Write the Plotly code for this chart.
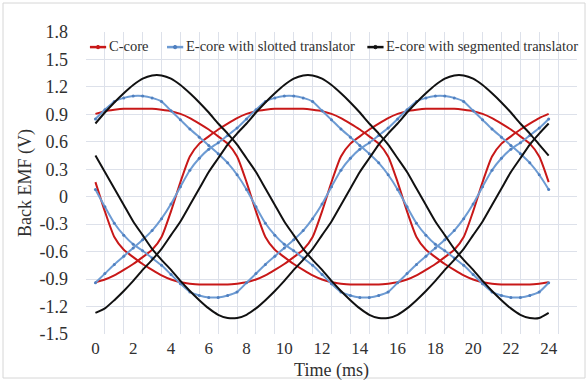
import plotly.graph_objects as go

# ---------------- data ----------------
time_ms = [0, 0.5, 1, 1.5, 2, 2.5, 3, 3.5, 4, 4.5, 5, 5.5, 6, 6.5, 7, 7.5, 8, 8.5,
           9, 9.5, 10, 10.5, 11, 11.5, 12, 12.5, 13, 13.5, 14, 14.5, 15, 15.5,
           16, 16.5, 17, 17.5, 18, 18.5, 19, 19.5, 20, 20.5, 21, 21.5, 22, 22.5,
           23, 23.5, 24]

c_core_a = [0.905, 0.935, 0.95, 0.96, 0.96, 0.96, 0.96, 0.95, 0.935, 0.905, 0.86, 0.80,
            0.735, 0.66, 0.58, 0.44, 0.16, -0.16, -0.44, -0.58, -0.66, -0.735, -0.80,
            -0.86, -0.905, -0.935, -0.95, -0.96, -0.96, -0.96, -0.96, -0.95, -0.935,
            -0.905, -0.86, -0.80, -0.735, -0.66, -0.58, -0.44, -0.16, 0.16, 0.44, 0.58,
            0.66, 0.735, 0.80, 0.86, 0.905]
c_core_b = [0.16, -0.16, -0.44, -0.58, -0.66, -0.735, -0.80, -0.86, -0.905, -0.935, -0.95,
            -0.96, -0.96, -0.96, -0.96, -0.95, -0.935, -0.905, -0.86, -0.80, -0.735, -0.66,
            -0.58, -0.44, -0.16, 0.16, 0.44, 0.58, 0.66, 0.735, 0.80, 0.86, 0.905, 0.935,
            0.95, 0.96, 0.96, 0.96, 0.96, 0.95, 0.935, 0.905, 0.86, 0.80, 0.735, 0.66,
            0.58, 0.44, 0.16]
c_core_c = [-0.935, -0.905, -0.86, -0.80, -0.735, -0.66, -0.58, -0.44, -0.16, 0.16, 0.44,
            0.58, 0.66, 0.735, 0.80, 0.86, 0.905, 0.935, 0.95, 0.96, 0.96, 0.96, 0.96,
            0.95, 0.935, 0.905, 0.86, 0.80, 0.735, 0.66, 0.58, 0.44, 0.16, -0.16, -0.44,
            -0.58, -0.66, -0.735, -0.80, -0.86, -0.905, -0.935, -0.95, -0.96, -0.96,
            -0.96, -0.96, -0.95, -0.935]

slotted_a = [0.85, 0.95, 1.04, 1.08, 1.10, 1.10, 1.08, 1.04, 0.94, 0.84, 0.74, 0.65, 0.56,
             0.47, 0.37, 0.24, 0.08, -0.11, -0.29, -0.42, -0.52, -0.59, -0.67, -0.75,
             -0.85, -0.95, -1.04, -1.08, -1.10, -1.10, -1.08, -1.04, -0.94, -0.84, -0.74,
             -0.65, -0.56, -0.47, -0.37, -0.24, -0.08, 0.11, 0.29, 0.42, 0.52, 0.59, 0.67,
             0.75, 0.85]
slotted_b = [0.08, -0.11, -0.29, -0.42, -0.52, -0.59, -0.67, -0.75, -0.85, -0.95, -1.04,
             -1.08, -1.10, -1.10, -1.08, -1.04, -0.94, -0.84, -0.74, -0.65, -0.56, -0.47,
             -0.37, -0.24, -0.08, 0.11, 0.29, 0.42, 0.52, 0.59, 0.67, 0.75, 0.85, 0.95,
             1.04, 1.08, 1.10, 1.10, 1.08, 1.04, 0.94, 0.84, 0.74, 0.65, 0.56, 0.47, 0.37,
             0.24, 0.08]
slotted_c = [-0.94, -0.84, -0.74, -0.65, -0.56, -0.47, -0.37, -0.24, -0.08, 0.11, 0.29,
             0.42, 0.52, 0.59, 0.67, 0.75, 0.85, 0.95, 1.04, 1.08, 1.10, 1.10, 1.08, 1.04,
             0.94, 0.84, 0.74, 0.65, 0.56, 0.47, 0.37, 0.24, 0.08, -0.11, -0.29, -0.42,
             -0.52, -0.59, -0.67, -0.75, -0.85, -0.95, -1.04, -1.08, -1.10, -1.10, -1.08,
             -1.04, -0.94]

segmented_a = [0.80, 0.92, 1.03, 1.13, 1.22, 1.29, 1.325, 1.325, 1.29, 1.22, 1.13, 1.03,
               0.92, 0.80, 0.69, 0.57, 0.42, 0.27, 0.09, -0.09, -0.27, -0.42, -0.57, -0.69,
               -0.80, -0.92, -1.03, -1.13, -1.22, -1.29, -1.325, -1.325, -1.29, -1.22,
               -1.13, -1.03, -0.92, -0.80, -0.69, -0.57, -0.42, -0.27, -0.09, 0.09, 0.27,
               0.42, 0.57, 0.69, 0.80]
segmented_b = [0.45, 0.27, 0.09, -0.09, -0.27, -0.42, -0.57, -0.69, -0.80, -0.92, -1.03,
               -1.13, -1.22, -1.29, -1.325, -1.325, -1.29, -1.22, -1.13, -1.03, -0.92,
               -0.80, -0.69, -0.57, -0.42, -0.27, -0.09, 0.09, 0.27, 0.42, 0.57, 0.69,
               0.80, 0.92, 1.03, 1.13, 1.22, 1.29, 1.325, 1.325, 1.29, 1.22, 1.13, 1.03,
               0.92, 0.80, 0.69, 0.57, 0.45]
segmented_c = [-1.27, -1.22, -1.13, -1.03, -0.92, -0.80, -0.69, -0.57, -0.42, -0.27, -0.09,
               0.09, 0.27, 0.42, 0.57, 0.69, 0.80, 0.92, 1.03, 1.13, 1.22, 1.29, 1.325,
               1.325, 1.29, 1.22, 1.13, 1.03, 0.92, 0.80, 0.69, 0.57, 0.42, 0.27, 0.09,
               -0.09, -0.27, -0.42, -0.57, -0.69, -0.80, -0.92, -1.03, -1.13, -1.22, -1.29,
               -1.325, -1.325, -1.27]

series_names = ["C-core", "E-core with slotted translator", "E-core with segmented translator"]

x_tick_vals = [0, 2, 4, 6, 8, 10, 12, 14, 16, 18, 20, 22, 24]
x_tick_text = ["0", "2", "4", "6", "8", "10", "12", "14", "16", "18", "20", "22", "24"]
x_grid_vals = [-0.5, 0.5, 1.5, 2.5, 3.5, 4.5, 5.5, 6.5, 7.5, 8.5, 9.5, 10.5, 11.5, 12.5,
               13.5, 14.5, 15.5, 16.5, 17.5, 18.5, 19.5, 20.5, 21.5, 22.5, 23.5, 24.5, 25.5]
y_tick_vals = [1.8, 1.5, 1.2, 0.9, 0.6, 0.3, 0, -0.3, -0.6, -0.9, -1.2, -1.5]
y_tick_text = ["1.8", "1.5", "1.2", "0.9", "0.6", "0.3", "0", "-0.3", "-0.6", "-0.9",
               "-1.2", "-1.5"]

# ---------------- styles ----------------
RED = "#c81818"
BLUE = "#6d9bd3"
BLUE_DOT = "#4f7fbf"
BLACK = "#111111"
TEXT = "#303030"
FONT = "Liberation Serif"

fig = go.Figure()

groups = [
    (series_names[0], [c_core_a, c_core_b, c_core_c], RED, None),
    (series_names[1], [slotted_a, slotted_b, slotted_c], BLUE, BLUE_DOT),
    (series_names[2], [segmented_a, segmented_b, segmented_c], BLACK, None),
]
for name, phases, color, dot in groups:
    for vals in phases:
        fig.add_trace(go.Scatter(
            x=time_ms, y=vals, mode="lines+markers" if dot else "lines", name=name,
            legendgroup=name, showlegend=False,
            line=dict(color=color, width=2, shape="spline", smoothing=0.6),
            marker=dict(color=dot or color, size=3)))

# custom legend (inside the top band of the plot)
legend_y = 0.950
legend_items = [
    (0.008, 0.041, 0.042, series_names[0], RED, RED),
    (0.165, 0.198, 0.199, series_names[1], BLUE, BLUE_DOT),
    (0.573, 0.606, 0.607, series_names[2], BLACK, BLACK),
]
shapes = []
annotations = []
for x0, x1, xt, label, color, dotc in legend_items:
    shapes.append(dict(type="line", xref="paper", yref="paper", x0=x0, x1=x1,
                       y0=legend_y, y1=legend_y, line=dict(color=color, width=2.5)))
    xm = (x0 + x1) / 2
    shapes.append(dict(type="circle", xref="paper", yref="paper",
                       x0=xm - 0.0035, x1=xm + 0.0035,
                       y0=legend_y - 0.0055, y1=legend_y + 0.0055,
                       line=dict(color=dotc, width=1), fillcolor=dotc))
    annotations.append(dict(xref="paper", yref="paper", x=xt, y=legend_y + 0.003,
                            text=label, showarrow=False, xanchor="left",
                            yanchor="middle",
                            font=dict(family=FONT, size=14.5, color=TEXT)))

# light frame around the whole picture
shapes.append(dict(type="rect", xref="paper", yref="paper",
                   x0=-0.169, x1=1.0163, y0=-0.1457, y1=1.096,
                   line=dict(color="#d6d6d6", width=1), fillcolor="rgba(0,0,0,0)"))

fig.update_layout(
    width=588, height=381,
    margin=dict(l=86, r=11, t=32, b=47, autoexpand=False),
    paper_bgcolor="white", plot_bgcolor="white",
    showlegend=False,
    font=dict(family=FONT, size=17, color=TEXT),
    shapes=shapes, annotations=annotations,
    xaxis=dict(
        range=[-0.5, 25.5], tickmode="array", tickvals=x_tick_vals,
        ticktext=x_tick_text, showgrid=False, zeroline=False, showline=False,
        ticks="", ticklabelstandoff=2, automargin=False,
        tickfont=dict(family=FONT, size=17, color=TEXT),
        minor=dict(tickmode="array", tickvals=x_grid_vals, showgrid=True,
                   gridcolor="#dde1ea", gridwidth=1, ticks=""),
        title=dict(text="Time (ms)", standoff=8,
                   font=dict(family=FONT, size=18, color=TEXT)),
    ),
    yaxis=dict(
        range=[-1.5, 1.8], tickmode="array", tickvals=y_tick_vals,
        ticktext=y_tick_text, showgrid=True, gridcolor="#dde1ea", gridwidth=1,
        zeroline=False, showline=False, ticks="", ticklabelstandoff=17,
        automargin=False,
        tickfont=dict(family=FONT, size=18, color=TEXT),
        title=dict(text="Back EMF (V)", standoff=3,
                   font=dict(family=FONT, size=18, color=TEXT)),
    ),
)

fig.write_html("out.html")
